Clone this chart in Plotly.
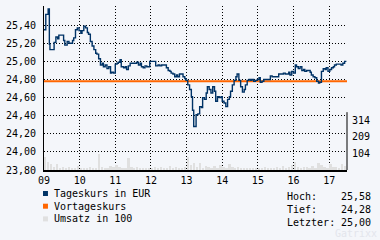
import pandas as pd
import plotly.graph_objects as go

# Intraday trades (time, price in EUR)
times = [
    "09:00", "09:03", "09:07", "09:09", "09:10", "09:15", "09:17", "09:20", "09:23", "09:25",
    "09:31", "09:33", "09:35", "09:39", "09:42", "09:48", "09:50", "09:53", "09:56", "09:59",
    "10:02", "10:04", "10:07", "10:10", "10:13", "10:15", "10:18", "10:21", "10:24", "10:27",
    "10:29", "10:32", "10:35", "10:38", "10:40", "10:43", "10:46", "10:49", "10:52", "10:54",
    "10:57", "11:00", "11:03", "11:05", "11:08", "11:10", "11:14", "11:17", "11:19", "11:22",
    "11:25", "11:36", "11:39", "11:42", "11:44", "11:47", "11:50", "11:53", "11:58", "12:08",
    "12:12", "12:15", "12:18", "12:26", "12:29", "12:32", "12:34", "12:37", "12:40", "12:43",
    "12:45", "12:48", "12:54", "12:57", "12:59", "13:02", "13:05", "13:08", "13:10", "13:12",
    "13:16", "13:19", "13:22", "13:25", "13:27", "13:30", "13:33", "13:35", "13:38", "13:41",
    "13:44", "13:47", "13:49", "13:52", "13:55", "13:58", "14:00", "14:03", "14:06", "14:09",
    "14:12", "14:14", "14:17", "14:20", "14:23", "14:25", "14:28", "14:31", "14:34", "14:37",
    "14:39", "14:42", "14:45", "14:48", "14:50", "14:53", "14:56", "14:59", "15:02", "15:04",
    "15:07", "15:10", "15:21", "15:24", "15:35", "15:43", "15:46", "15:52", "15:54", "15:57",
    "16:00", "16:03", "16:05", "16:08", "16:11", "16:14", "16:17", "16:19", "16:22", "16:28",
    "16:30", "16:33", "16:36", "16:39", "16:42", "16:44", "16:47", "16:50", "16:53", "16:55",
    "16:58", "17:01", "17:04", "17:07", "17:09", "17:12", "17:20", "17:23", "17:26", "17:29",
]
prices = [
    25.35, 25.52, 25.58, 25.19, 25.13, 25.13, 25.21, 25.27, 25.25, 25.29,
    25.29, 25.23, 25.18, 25.22, 25.20, 25.23, 25.26, 25.35, 25.37, 25.34,
    25.31, 25.34, 25.39, 25.37, 25.32, 25.30, 25.22, 25.17, 25.13, 25.09,
    25.08, 25.03, 24.96, 24.98, 24.94, 24.96, 24.92, 24.94, 24.87, 24.88,
    24.87, 24.97, 24.98, 24.99, 25.02, 24.94, 24.93, 24.94, 24.91, 24.95,
    24.98, 24.99, 24.96, 24.98, 24.94, 24.93, 24.95, 24.94, 25.00, 24.95,
    24.96, 24.95, 24.96, 24.93, 24.90, 24.89, 24.87, 24.86, 24.83, 24.85,
    24.83, 24.86, 24.83, 24.81, 24.79, 24.74, 24.69, 24.61, 24.46, 24.28,
    24.41, 24.42, 24.50, 24.49, 24.60, 24.58, 24.65, 24.72, 24.69, 24.65,
    24.72, 24.67, 24.56, 24.61, 24.60, 24.61, 24.56, 24.54, 24.50, 24.58,
    24.61, 24.67, 24.74, 24.79, 24.83, 24.86, 24.79, 24.72, 24.66, 24.69,
    24.74, 24.79, 24.80, 24.79, 24.80, 24.78, 24.79, 24.80, 24.82, 24.77,
    24.78, 24.80, 24.84, 24.83, 24.86, 24.87, 24.86, 24.88, 24.85, 24.89,
    24.87, 24.96, 24.94, 24.92, 24.94, 24.90, 24.91, 24.89, 24.90, 24.88,
    24.85, 24.83, 24.82, 24.78, 24.76, 24.77, 24.89, 24.92, 24.91, 24.93,
    24.89, 24.91, 24.93, 24.94, 24.96, 24.97, 24.96, 24.98, 25.00, 25.00,
]
prev_close = 24.78

# Turnover per 5-minute bucket, in units of 100
vol_first = "09:00"
volumes = [
    80, 52, 40, 22, 35, 15, 20, 12, 18, 10, 14, 25,
    12, 8, 15, 20, 10, 14, 98, 22, 15, 12, 25, 18,
    30, 20, 12, 10, 75, 20, 14, 18, 10, 12, 8, 15,
    10, 22, 12, 18, 14, 10, 25, 12, 20, 15, 10, 18,
    80, 30, 45, 22, 46, 15, 28, 18, 12, 25, 14, 30,
    20, 12, 35, 18, 10, 22, 12, 8, 15, 10, 12, 8,
    14, 10, 18, 8, 12, 15, 20, 10, 25, 14, 18, 30,
    48, 20, 15, 22, 18, 12, 25, 15, 45, 30, 20, 15,
    35, 22, 18, 12, 40, 25,
]
vol_ticks = [104, 209, 314]

price_ticks = [23.80, 24.00, 24.20, 24.40, 24.60, 24.80, 25.00, 25.20, 25.40]
hour_ticks = ["09", "10", "11", "12", "13", "14", "15", "16", "17"]
session = ("09:00", "17:30")

DAY = "2024-01-02"
NAVY = "#003366"
ORANGE = "#ff6600"
VOLGRAY = "#e0e0e0"
BG = "#f4f6fa"
FONT = "DejaVu Sans Mono"

W, H = 380, 240
ML, MR, MT, MB = 41, 33, 6, 70
PW, PH = W - ML - MR, H - MT - MB


def ts(t):
    return pd.Timestamp(f"{DAY} {t}")


def de(v):
    return f"{v:.2f}".replace(".", ",")


def px(x):
    return (x - ML) / PW


def py(y):
    return (H - MB - y) / PH


x_trades = [ts(t) for t in times]
x_vol = [ts(vol_first) + pd.Timedelta(minutes=5 * i + 2.5) for i in range(len(volumes))]
x_range = [ts(session[0]), ts(session[1])]

fig = go.Figure()

fig.add_trace(go.Bar(
    x=x_vol, y=volumes, yaxis="y2", marker=dict(color=VOLGRAY, line=dict(width=0)),
    width=3 * 60 * 1000, hoverinfo="skip", showlegend=False,
))
fig.add_trace(go.Scatter(
    x=x_range, y=[prev_close, prev_close], mode="lines",
    line=dict(color=ORANGE, width=2), showlegend=False, hoverinfo="skip",
))
fig.add_trace(go.Scatter(
    x=x_trades, y=prices, mode="lines", line=dict(color=NAVY, width=1.4, shape="hv"),
    showlegend=False,
))

grid = dict(showgrid=True, gridcolor="black", gridwidth=1, griddash="1px,2px")

fig.update_layout(
    width=W, height=H,
    margin=dict(l=ML, r=MR, t=MT, b=MB, pad=0),
    paper_bgcolor=BG, plot_bgcolor=BG,
    separators=",.",
    font=dict(family=FONT, size=10, color="black"),
    bargap=0,
    xaxis=dict(
        type="date", range=x_range,
        tickvals=[ts(h + ":00") for h in hour_ticks], ticktext=hour_ticks,
        showline=True, linecolor="black", linewidth=2,
        ticks="", ticklabelstandoff=0, zeroline=False, **grid,
    ),
    yaxis=dict(
        range=[23.80, 25.612], tickvals=price_ticks, tickformat=".2f",
        showline=True, linecolor="black", linewidth=1,
        ticks="", ticklabelstandoff=5, zeroline=False, **grid,
    ),
    yaxis2=dict(
        overlaying="y", side="right", range=[0, 1033], tickvals=vol_ticks,
        showgrid=False, showline=False, ticks="", ticklabelstandoff=4, zeroline=False,
    ),
)

# short right-hand axis for the turnover scale
fig.add_shape(type="line", xref="paper", yref="y2", x0=1, x1=1, y0=0, y1=vol_ticks[-1] * 1.16,
              line=dict(color="black", width=1))

# legend
legend = [("Tageskurs in EUR", NAVY), ("Vortageskurs", ORANGE), ("Umsatz in 100", VOLGRAY)]
for i, (label, col) in enumerate(legend):
    yc = 193.5 + 12.7 * i
    fig.add_shape(type="rect", xref="paper", yref="paper",
                  x0=px(40), x1=px(45), y0=py(yc - 2.5), y1=py(yc + 2.5),
                  fillcolor=col, line=dict(width=0))
    fig.add_annotation(text=label, xref="paper", yref="paper", x=px(49), y=py(yc),
                       xanchor="left", yanchor="middle", showarrow=False,
                       font=dict(family=FONT, size=10, color="black"))

# day statistics
stats = [("Hoch:", max(prices)), ("Tief:", min(prices)), ("Letzter:", prices[-1])]
for i, (label, val) in enumerate(stats):
    yc = 196 + 13.2 * i
    fig.add_annotation(text=label, xref="paper", yref="paper", x=px(284), y=py(yc),
                       xanchor="left", yanchor="middle", showarrow=False)
    fig.add_annotation(text=de(val), xref="paper", yref="paper", x=px(339), y=py(yc),
                       xanchor="left", yanchor="middle", showarrow=False)

fig.add_annotation(text="Gatrixx", xref="paper", yref="paper", x=px(379), y=py(234),
                   xanchor="right", yanchor="middle", showarrow=False,
                   font=dict(family=FONT, size=10, color="#e3e5ec"))

fig.write_html("out.html")
